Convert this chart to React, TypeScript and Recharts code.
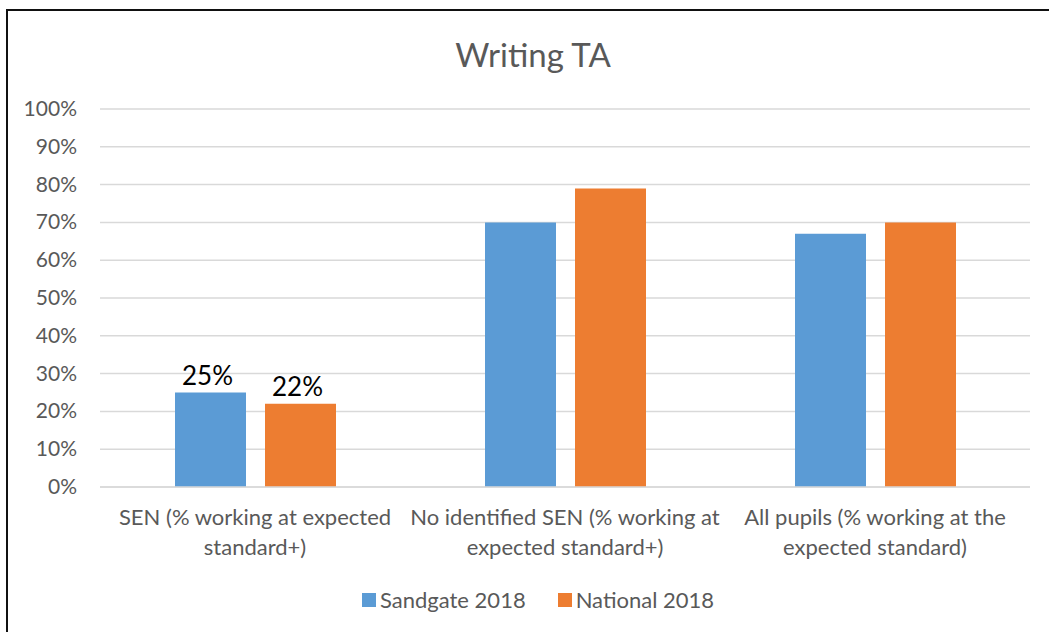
import React from 'react';
import {
  BarChart,
  Bar,
  XAxis,
  YAxis,
  CartesianGrid,
  Legend,
  LabelList,
} from 'recharts';

const categories = [
  'SEN (% working at expected standard+)',
  'No identified SEN (% working at expected standard+)',
  'All pupils (% working at the expected standard)',
];
const sandgate2018 = [25, 70, 67];
const national2018 = [22, 79, 70];
const seriesNames = ['Sandgate 2018', 'National 2018'];
const yTicks = [0, 10, 20, 30, 40, 50, 60, 70, 80, 90, 100];
// only the first group carries value labels in the original
const labelledIndex = [0];

const FONT = 'Lato, "Open Sans", sans-serif';
const GREY = '#595959';
const BLUE = '#5b9bd5';
const ORANGE = '#ed7d31';
const seriesColors = [BLUE, ORANGE];

const data = categories.map((name, i) => ({
  name,
  sandgate: sandgate2018[i],
  national: national2018[i],
}));

function wrap(text: string, maxChars: number) {
  const words = text.split(' ');
  const lines: string[] = [];
  let cur = '';
  for (const w of words) {
    const next = cur ? cur + ' ' + w : w;
    if (next.length > maxChars && cur) {
      lines.push(cur);
      cur = w;
    } else {
      cur = next;
    }
  }
  if (cur) lines.push(cur);
  return lines;
}

function CategoryTick({ x, y, payload }: any) {
  const lines = wrap(payload.value, 31);
  return (
    <g transform={`translate(${x},${y})`}>
      {lines.map((l, i) => (
        <text
          key={i}
          x={0}
          y={30 + i * 30}
          textAnchor='middle'
          fill={GREY}
          fontSize={22}
          fontFamily={FONT}
        >
          {l}
        </text>
      ))}
    </g>
  );
}

function PercentTick({ x, y, payload }: any) {
  return (
    <text
      x={x - 15}
      y={y}
      dy={7}
      textAnchor='end'
      fill={GREY}
      fontSize={21}
      fontFamily={FONT}
    >
      {payload.value}%
    </text>
  );
}

function ValueLabel({ x, y, width, value, index }: any) {
  if (!labelledIndex.includes(index)) return null;
  return (
    <text
      x={x + width / 2 - 3}
      y={y - 8}
      textAnchor='middle'
      fill='#000'
      fontSize={26}
      fontFamily={FONT}
    >
      {value}%
    </text>
  );
}

function LegendContent() {
  return (
    <div
      style={{
        display: 'flex',
        justifyContent: 'center',
        gap: 32,
        fontFamily: FONT,
        fontSize: 22,
        color: GREY,
        paddingLeft: 46,
        paddingTop: 4,
      }}
    >
      {seriesNames.map((n, i) => (
        <div key={n} style={{ display: 'flex', alignItems: 'center' }}>
          <span
            style={{
              width: 14,
              height: 14,
              background: seriesColors[i],
              marginRight: 4,
              display: 'inline-block',
            }}
          />
          {n}
        </div>
      ))}
    </div>
  );
}

export default function App() {
  return (
    <div
      style={{
        position: 'absolute',
        left: 0,
        top: 0,
        width: 1049,
        height: 632,
        overflow: 'hidden',
        background: '#fff',
      }}
    >
      <div
        style={{
          position: 'absolute',
          left: 6,
          top: 9,
          width: 1100,
          height: 2,
          background: '#111',
        }}
      />
      <div
        style={{
          position: 'absolute',
          left: 6,
          top: 9,
          width: 2,
          height: 700,
          background: '#111',
        }}
      />
      <div
        style={{
          position: 'absolute',
          left: 383,
          top: 34,
          width: 300,
          textAlign: 'center',
          fontFamily: FONT,
          fontSize: 33,
          color: GREY,
        }}
      >
        Writing TA
      </div>
      <div style={{ position: 'absolute', left: 0, top: 0 }}>
        <BarChart
          width={1049}
          height={632}
          data={data}
          margin={{ top: 109, right: 19, left: 0, bottom: 20 }}
          barGap={19}
          barCategoryGap={75}
        >
          <CartesianGrid
            vertical={false}
            stroke='#d9d9d9'
            strokeWidth={1.5}
          />
          <XAxis
            dataKey='name'
            interval={0}
            height={95}
            tick={CategoryTick as any}
            tickLine={false}
            axisLine={{ stroke: '#d9d9d9', strokeWidth: 1.5 }}
          />
          <YAxis
            width={100}
            domain={[0, 100]}
            ticks={yTicks}
            tick={PercentTick as any}
            tickLine={false}
            axisLine={false}
          />
          <Legend
            verticalAlign='bottom'
            height={30}
            content={LegendContent as any}
          />
          <Bar
            dataKey='sandgate'
            name={seriesNames[0]}
            fill={BLUE}
            isAnimationActive={false}
          >
            <LabelList dataKey='sandgate' content={ValueLabel as any} />
          </Bar>
          <Bar
            dataKey='national'
            name={seriesNames[1]}
            fill={ORANGE}
            isAnimationActive={false}
          >
            <LabelList dataKey='national' content={ValueLabel as any} />
          </Bar>
        </BarChart>
      </div>
    </div>
  );
}
